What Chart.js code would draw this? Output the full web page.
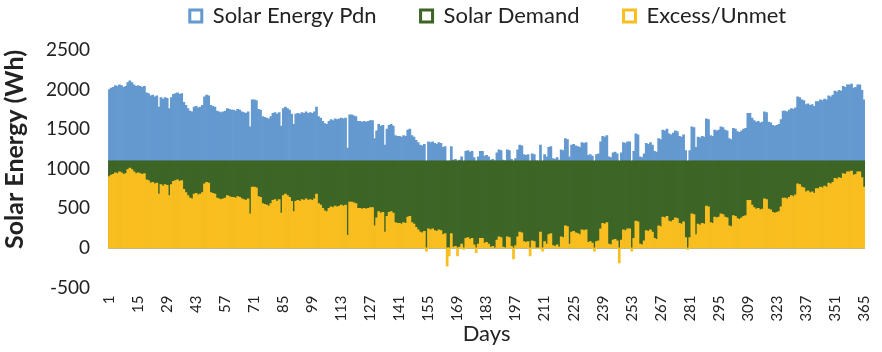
<!DOCTYPE html>
<html>
<head>
<meta charset="utf-8">
<script src="https://cdn.jsdelivr.net/npm/chart.js@4"></script>
<style>
  html, body { margin: 0; padding: 0; background: #fff; }
  #wrap { width: 882px; height: 352px; }
</style>
</head>
<body>
<div id="wrap"><canvas id="solar"></canvas></div>
<script>
// day numbers on the x axis
const days = Array.from({length: 365}, (_, i) => String(i + 1))
const tickDays = ['1','15','29','43','57','71','85','99','113','127','141','155','169','183','197','211','225','239','253','267','281','295','309','323','337','351','365']

const solarPdn = [
  2000,2020,2030,2050,2040,2060,2050,2030,2040,2090,2110,2090,2060,2040,
  2050,2040,2030,2040,1960,1950,1920,1930,1910,1920,1780,1900,1880,1900,
  1890,1760,1900,1940,1950,1960,1940,1950,1840,1800,1760,1730,1720,1780,
  1790,1770,1780,1800,1910,1930,1920,1800,1790,1780,1730,1720,1710,1720,
  1730,1760,1750,1740,1740,1730,1750,1740,1720,1710,1700,1720,1530,1870,
  1870,1860,1750,1740,1660,1650,1640,1630,1660,1700,1710,1690,1710,1540,
  1760,1780,1760,1740,1690,1560,1690,1700,1690,1710,1700,1720,1700,1710,
  1700,1720,1780,1660,1640,1600,1570,1560,1600,1620,1610,1630,1620,1630,
  1640,1630,1640,1260,1680,1680,1670,1660,1600,1600,1590,1600,1590,1600,
  1610,1610,1380,1480,1560,1540,1550,1300,1500,1550,1560,1540,1420,1410,
  1410,1400,1420,1410,1490,1500,1420,1400,1360,1330,1300,1290,1310,1060,
  1340,1330,1340,1320,1310,1330,1320,1270,1280,870,1000,1280,1110,1120,
  1000,1110,1150,1080,1220,1230,1210,1220,1140,1040,1150,1220,1220,1160,
  1170,1150,1110,1120,1100,1200,1240,1230,1110,1100,1240,1230,1120,960,
  1130,1240,1300,1290,1180,1170,1180,1000,1190,1180,1100,1090,1300,1060,
  1180,1150,1270,1280,1130,1120,1140,1110,1240,1230,1380,1370,1150,1300,
  1310,1290,1280,1270,1330,1320,1330,1170,1180,1160,1060,1180,1190,1340,
  1410,1400,1420,1150,1140,1200,1210,1190,910,1200,1330,1320,1340,1340,
  1060,1220,1440,1430,1150,1140,1190,1320,1310,1330,1300,1220,1210,1380,
  1370,1490,1480,1500,1440,1430,1450,1480,1470,1410,1400,1430,1230,1080,
  1230,1530,1520,1270,1400,1390,1410,1400,1630,1620,1420,1410,1490,1480,
  1490,1530,1520,1490,1480,1380,1370,1510,1500,1470,1460,1480,1500,1510,
  1700,1700,1640,1610,1590,1600,1580,1590,1720,1710,1590,1580,1550,1540,
  1550,1560,1620,1730,1730,1720,1740,1760,1750,1770,1910,1900,1870,1860,
  1810,1820,1800,1810,1790,1850,1850,1870,1860,1880,1870,1920,1910,1930,
  1980,1970,1990,1980,2040,2030,2060,2060,2070,2020,2030,2060,2060,1990,
  1870
]

const solarDemand = [
  1100,1100,1100,1100,1100,1100,1100,1100,1100,1100,1100,1100,1100,1100,
  1100,1100,1100,1100,1100,1100,1100,1100,1100,1100,1100,1100,1100,1100,
  1100,1100,1100,1100,1100,1100,1100,1100,1100,1100,1100,1100,1100,1100,
  1100,1100,1100,1100,1100,1100,1100,1100,1100,1100,1100,1100,1100,1100,
  1100,1100,1100,1100,1100,1100,1100,1100,1100,1100,1100,1100,1100,1100,
  1100,1100,1100,1100,1100,1100,1100,1100,1100,1100,1100,1100,1100,1100,
  1100,1100,1100,1100,1100,1100,1100,1100,1100,1100,1100,1100,1100,1100,
  1100,1100,1100,1100,1100,1100,1100,1100,1100,1100,1100,1100,1100,1100,
  1100,1100,1100,1100,1100,1100,1100,1100,1100,1100,1100,1100,1100,1100,
  1100,1100,1100,1100,1100,1100,1100,1100,1100,1100,1100,1100,1100,1100,
  1100,1100,1100,1100,1100,1100,1100,1100,1100,1100,1100,1100,1100,1100,
  1100,1100,1100,1100,1100,1100,1100,1100,1100,1100,1100,1100,1100,1100,
  1100,1100,1100,1100,1100,1100,1100,1100,1100,1100,1100,1100,1100,1100,
  1100,1100,1100,1100,1100,1100,1100,1100,1100,1100,1100,1100,1100,1100,
  1100,1100,1100,1100,1100,1100,1100,1100,1100,1100,1100,1100,1100,1100,
  1100,1100,1100,1100,1100,1100,1100,1100,1100,1100,1100,1100,1100,1100,
  1100,1100,1100,1100,1100,1100,1100,1100,1100,1100,1100,1100,1100,1100,
  1100,1100,1100,1100,1100,1100,1100,1100,1100,1100,1100,1100,1100,1100,
  1100,1100,1100,1100,1100,1100,1100,1100,1100,1100,1100,1100,1100,1100,
  1100,1100,1100,1100,1100,1100,1100,1100,1100,1100,1100,1100,1100,1100,
  1100,1100,1100,1100,1100,1100,1100,1100,1100,1100,1100,1100,1100,1100,
  1100,1100,1100,1100,1100,1100,1100,1100,1100,1100,1100,1100,1100,1100,
  1100,1100,1100,1100,1100,1100,1100,1100,1100,1100,1100,1100,1100,1100,
  1100,1100,1100,1100,1100,1100,1100,1100,1100,1100,1100,1100,1100,1100,
  1100,1100,1100,1100,1100,1100,1100,1100,1100,1100,1100,1100,1100,1100,
  1100,1100,1100,1100,1100,1100,1100,1100,1100,1100,1100,1100,1100,1100,
  1100
]

const excessUnmet = [
  900,920,930,950,940,960,950,930,940,990,1010,990,960,940,
  950,940,930,940,860,850,820,830,810,820,680,800,780,800,
  790,660,800,840,850,860,840,850,740,700,660,630,620,680,
  690,670,680,700,810,830,820,700,690,680,630,620,610,620,
  630,660,650,640,640,630,650,640,620,610,600,620,430,770,
  770,760,650,640,560,550,540,530,560,600,610,590,610,440,
  660,680,660,640,590,460,590,600,590,610,600,620,600,610,
  600,620,680,560,540,500,470,460,500,520,510,530,520,530,
  540,530,540,160,580,580,570,560,500,500,490,500,490,500,
  510,510,280,380,460,440,450,200,400,450,460,440,320,310,
  310,300,320,310,390,400,320,300,260,230,200,190,210,-40,
  240,230,240,220,210,230,220,170,180,-230,-100,180,10,20,
  -100,10,50,-20,120,130,110,120,40,-60,50,120,120,60,
  70,50,10,20,0,100,140,130,10,0,140,130,20,-140,
  30,140,200,190,80,70,80,-100,90,80,0,-10,200,-40,
  80,50,170,180,30,20,40,10,140,130,280,270,50,200,
  210,190,180,170,230,220,230,70,80,60,-40,80,90,240,
  310,300,320,50,40,100,110,90,-190,100,230,220,240,240,
  -40,120,340,330,50,40,90,220,210,230,200,120,110,280,
  270,390,380,400,340,330,350,380,370,310,300,330,130,-20,
  130,430,420,170,300,290,310,300,530,520,320,310,390,380,
  390,430,420,390,380,280,270,410,400,370,360,380,400,410,
  600,600,540,510,490,500,480,490,620,610,490,480,450,440,
  450,460,520,630,630,620,640,660,650,670,810,800,770,760,
  710,720,700,710,690,750,750,770,760,780,770,820,810,830,
  880,870,890,880,940,930,960,960,970,920,930,960,960,890,
  770
]

const fontFam = "Lato, 'Open Sans', sans-serif"

// legend: a bit more room below it, and nudged right to sit over the plot
const legendTweak = {
  id: 'legendTweak',
  beforeInit(chart) {
    const lg = chart.legend
    const fit = lg.fit
    lg.fit = function () { fit.call(this); this.height += 13 }
    const draw = lg.draw
    lg.draw = function () {
      this.ctx.save()
      this.ctx.translate(47, 0)
      draw.call(this)
      this.ctx.restore()
    }
  }
}

var ctx = document.getElementById('solar').getContext('2d')
new Chart(ctx, {
  type: 'bar',
  data: {
    labels: days,
    datasets: [{
      label: 'Excess/Unmet',
      data: excessUnmet,
      backgroundColor: '#f9be1f',
      borderColor: '#f9be1f'
    }, {
      label: 'Solar Demand',
      data: solarDemand,
      backgroundColor: '#3d6526',
      borderColor: '#3d6526'
    }, {
      label: 'Solar Energy Pdn',
      data: solarPdn,
      backgroundColor: '#6499d0',
      borderColor: '#6499d0'
    }]
  },
  plugins: [legendTweak],
  options: {
    responsive: true,
    maintainAspectRatio: false,
    animation: false,
    layout: { padding: { top: -39, right: 0, left: 0, bottom: 5 } },
    datasets: {
      bar: {
        grouped: false,
        barPercentage: 1,
        categoryPercentage: 1,
        borderWidth: 0
      }
    },
    plugins: {
      tooltip: { enabled: false },
      legend: {
        reverse: true,
        labels: {
          color: '#222',
          font: { family: fontFam, size: 22 },
          boxWidth: 12,
          boxHeight: 12,
          padding: 44,
          generateLabels: chart => Chart.defaults.plugins.legend.labels.generateLabels(chart)
            .map(l => Object.assign(l, { fillStyle: '#fff', lineWidth: 3 }))
        }
      }
    },
    scales: {
      x: {
        grid: { display: false },
        border: { display: false },
        ticks: {
          color: '#222',
          font: { family: fontFam, size: 15 },
          autoSkip: false,
          maxRotation: 90,
          minRotation: 90,
          padding: 0,
          callback: function (val) {
            const lab = this.getLabelForValue(val)
            return tickDays.includes(lab) ? lab : ''
          }
        },
        title: {
          display: true,
          text: 'Days',
          color: '#222',
          font: { family: fontFam, size: 22 },
          padding: { top: -1, bottom: 0 }
        }
      },
      y: {
        min: -500,
        max: 2500,
        grid: { display: false },
        border: { display: false },
        ticks: {
          stepSize: 500,
          color: '#222',
          font: { family: fontFam, size: 19 },
          padding: 10,
          callback: v => String(v)
        },
        title: {
          display: true,
          text: 'Solar Energy (Wh)',
          align: 'end',
          color: '#222',
          font: { family: fontFam, size: 25, weight: 'bold' },
          padding: { top: 0, bottom: 6 }
        }
      }
    }
  }
})
</script>
</body>
</html>
